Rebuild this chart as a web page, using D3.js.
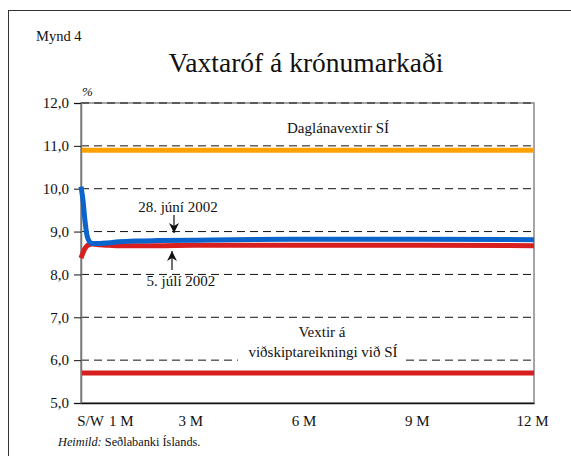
<!DOCTYPE html>
<html><head><meta charset="utf-8">
<script src="https://cdn.jsdelivr.net/npm/d3@7"></script>
<style>body{margin:0;background:#fff}svg{display:block}text{font-family:"Liberation Serif","Times New Roman",serif;fill:#111}</style>
</head><body>
<svg id="c" width="571" height="456"></svg>
<script>
// Data (months to maturity, rate %)
const months = [0, 0.05, 0.1, 0.15, 0.2, 0.3, 0.5, 0.75, 1, 1.5, 2, 3, 4, 6, 9, 12];
const june28 = [10.05, 9.75, 9.3, 8.95, 8.8, 8.72, 8.72, 8.74, 8.76, 8.78, 8.79, 8.8, 8.81, 8.82, 8.82, 8.81];
const july5  = [8.38, 8.5, 8.6, 8.66, 8.69, 8.71, 8.69, 8.68, 8.67, 8.67, 8.67, 8.68, 8.68, 8.68, 8.68, 8.67];
const overnightRate = 10.9;   // Daglánavextir SÍ
const currentAccRate = 5.7;   // Vextir á viðskiptareikningi við SÍ
const yTicks = [5, 6, 7, 8, 9, 10, 11, 12];
const xTickValues = [0, 1, 3, 6, 9, 12];
const xTickLabels = ["S/W", "1 M", "3 M", "6 M", "9 M", "12 M"];

const svg = d3.select("#c");
const L = 81, R = 534, T = 103, B = 403;
const x = d3.scaleLinear().domain([0, 12]).range([L, R]);
const y = d3.scaleLinear().domain([5, 12]).range([B, T]);

// outer frame
svg.append("rect").attr("x", 8.5).attr("y", 10.5).attr("width", 700).attr("height", 600)
  .attr("fill", "none").attr("stroke", "#333").attr("stroke-width", 1);

svg.append("text").attr("x", 36).attr("y", 41).attr("font-size", 14.5).text("Mynd 4");
svg.append("text").attr("x", 306).attr("y", 72).attr("text-anchor", "middle")
  .attr("font-size", 27.5).text("Vaxtaróf á krónumarkaði");
svg.append("text").attr("x", 82).attr("y", 96).attr("font-size", 13).attr("font-style", "italic").text("%");

// plot frame (gray sides)
svg.append("rect").attr("x", L).attr("y", T).attr("width", R - L).attr("height", B - T)
  .attr("fill", "none").attr("stroke", "#888").attr("stroke-width", 1.5);

// gridlines
svg.append("g").selectAll("line").data(yTicks.filter(d => d > 5)).join("line")
  .attr("x1", L).attr("x2", R).attr("y1", d => y(d)).attr("y2", d => y(d))
  .attr("stroke", "#111").attr("stroke-width", 1).attr("stroke-dasharray", "8,5");

// y axis
const yAxis = d3.axisLeft(y).tickValues(yTicks).tickSize(7).tickFormat(d => d3.format(".1f")(d).replace(".", ","));
const gy = svg.append("g").attr("transform", `translate(${L},0)`).call(yAxis);
gy.select(".domain").attr("stroke", "#777").attr("stroke-width", 1.5);
gy.selectAll(".tick line").attr("stroke", "#111");
gy.selectAll(".tick text").attr("font-size", 15).attr("font-family", "Liberation Serif").attr("fill", "#111").attr("x", -12);

// x axis
const xAxis = d3.axisBottom(x).tickValues(xTickValues).tickSize(0).tickFormat((d, i) => xTickLabels[i]);
const gx = svg.append("g").attr("transform", `translate(0,${B})`).call(xAxis);
gx.select(".domain").attr("stroke", "#111").attr("stroke-width", 1.5);
gx.selectAll(".tick text").attr("font-size", 15).attr("font-family", "Liberation Serif").attr("fill", "#111").attr("y", 12)
  .attr("dx", (d, i) => i === 0 ? 9 : (i === 1 ? 2 : (i === 5 ? -2 : -4)));

// white box behind lower label
svg.append("rect").attr("x", 238).attr("y", 342).attr("width", 168).attr("height", 20).attr("fill", "#fff");

// flat lines
svg.append("line").attr("x1", L + 1).attr("x2", R).attr("y1", y(overnightRate)).attr("y2", y(overnightRate))
  .attr("stroke", "#FFA200").attr("stroke-width", 5);
svg.append("line").attr("x1", L + 1).attr("x2", R).attr("y1", y(currentAccRate)).attr("y2", y(currentAccRate))
  .attr("stroke", "#D71F1F").attr("stroke-width", 5);

const line = d3.line().x((d, i) => x(months[i])).y(d => y(d)).curve(d3.curveMonotoneX);
svg.append("path").datum(july5).attr("d", line).attr("fill", "none").attr("stroke", "#D71F1F").attr("stroke-width", 5);
svg.append("path").datum(june28).attr("d", line).attr("fill", "none").attr("stroke", "#0A64CC").attr("stroke-width", 5);

// labels
svg.append("text").attr("x", 338).attr("y", 133).attr("text-anchor", "middle").attr("font-size", 15).text("Daglánavextir SÍ");
svg.append("text").attr("x", 322).attr("y", 337).attr("text-anchor", "middle").attr("font-size", 15).text("Vextir á");
svg.append("text").attr("x", 323).attr("y", 357).attr("text-anchor", "middle").attr("font-size", 15).text("viðskiptareikningi við SÍ");

svg.append("text").attr("x", 178).attr("y", 212).attr("text-anchor", "middle").attr("font-size", 15).text("28. júní 2002");
svg.append("text").attr("x", 181).attr("y", 286).attr("text-anchor", "middle").attr("font-size", 15).text("5. júlí 2002");

// arrows
svg.append("defs").append("marker").attr("id", "ah").attr("viewBox", "0 0 10 10").attr("refX", 10).attr("refY", 5)
  .attr("markerWidth", 10).attr("markerHeight", 10).attr("markerUnits", "userSpaceOnUse").attr("orient", "auto")
  .append("path").attr("d", "M0,0 L10,5 L0,10 L3,5 Z").attr("fill", "#111");
svg.append("line").attr("x1", 174).attr("x2", 174).attr("y1", 215).attr("y2", 233)
  .attr("stroke", "#111").attr("stroke-width", 1.2).attr("marker-end", "url(#ah)");
svg.append("line").attr("x1", 172).attr("x2", 172).attr("y1", 270).attr("y2", 251)
  .attr("stroke", "#111").attr("stroke-width", 1.2).attr("marker-end", "url(#ah)");

// source
const src = svg.append("text").attr("x", 58).attr("y", 446).attr("font-size", 12.3);
src.append("tspan").attr("font-style", "italic").text("Heimild:");
src.append("tspan").text(" Seðlabanki Íslands.");
</script>
</body></html>
